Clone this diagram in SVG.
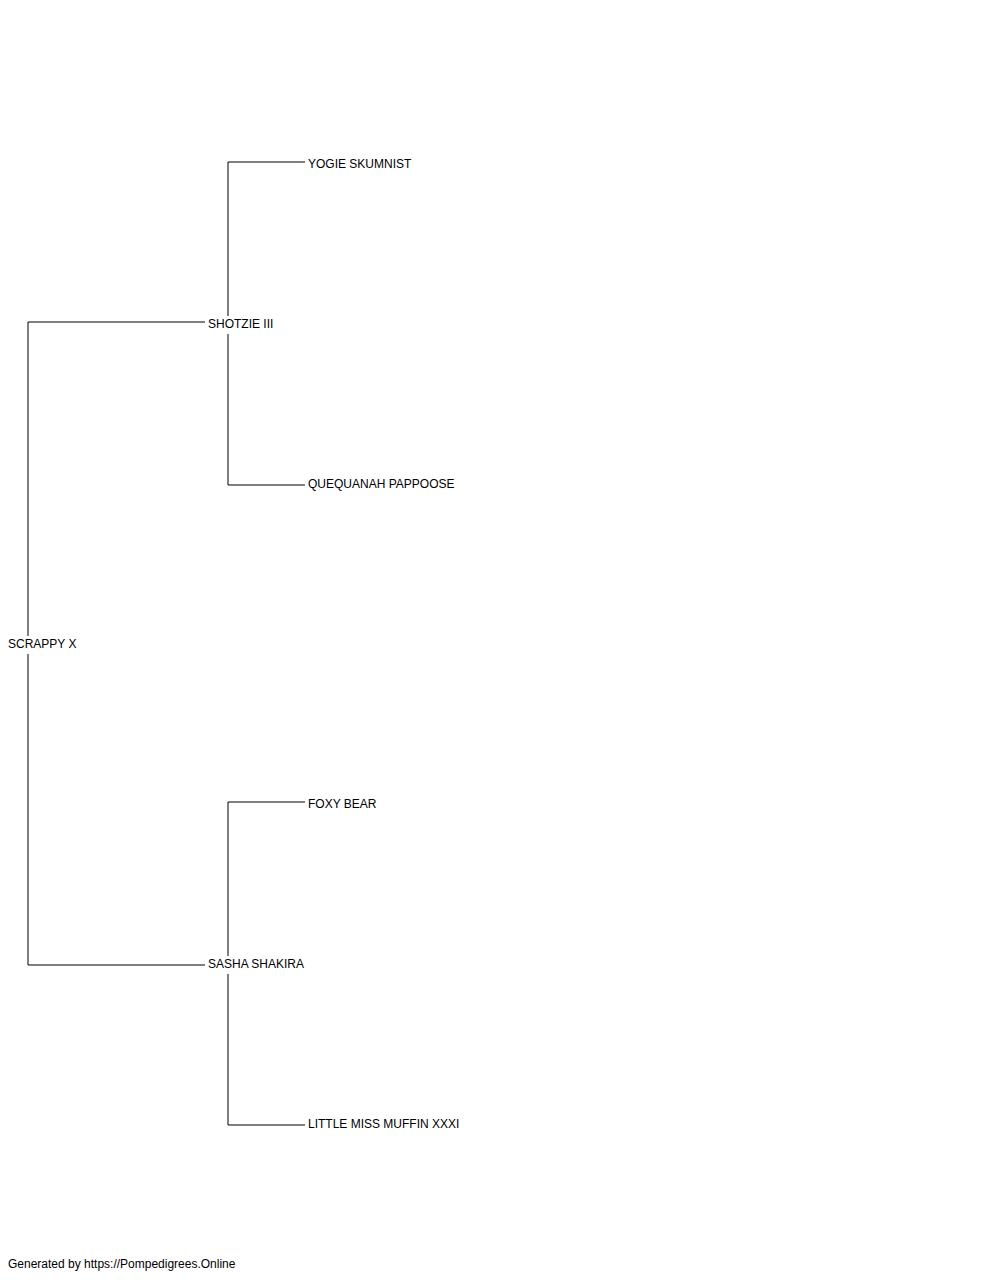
<svg xmlns="http://www.w3.org/2000/svg" width="1000" height="1280" viewBox="0 0 1000 1280">
<style>
text{font-family:"Liberation Sans",Arial,sans-serif;font-size:12px;fill:#000}
.c path{fill:none;stroke:#000;stroke-width:1}
</style>
<rect width="1000" height="1280" fill="#fff"/>
<g class="c" id="connectors">
<path d="M28 322H205M28 322V636M28 654V965M28 965H205"/>
<path d="M228 162H305M228 162V316M228 334V485M228 485H305"/>
<path d="M228 802H305M228 802V956M228 974V1125M228 1125H305"/>
</g>
<g id="scrappy"><text x="8" y="648">SCRAPPY X</text></g>
<g id="shotzie"><text x="208" y="328">SHOTZIE III</text></g>
<g id="sasha"><text x="208" y="968">SASHA SHAKIRA</text></g>
<g id="yogie"><text x="308" y="168">YOGIE SKUMNIST</text></g>
<g id="quequanah"><text x="308" y="488">QUEQUANAH PAPPOOSE</text></g>
<g id="foxy"><text x="308" y="808">FOXY BEAR</text></g>
<g id="little"><text x="308" y="1128">LITTLE MISS MUFFIN XXXI</text></g>
<g id="footer"><text x="8" y="1268">Generated by https://Pompedigrees.Online</text></g>
</svg>
